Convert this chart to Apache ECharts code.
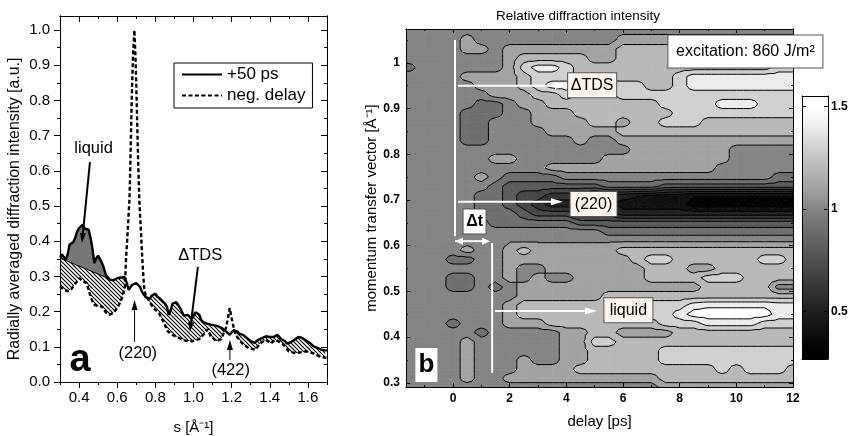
<!DOCTYPE html>
<html><head><meta charset="utf-8">
<style>html,body{margin:0;padding:0;background:#fff}#c{width:850px;height:436px}</style>
<script src="https://cdn.jsdelivr.net/npm/echarts@6/dist/echarts.min.js"></script>
</head><body><div id="c"></div>
<script>
// ---------- panel a ----------
const solidS=[0.30,0.31,0.32,0.33,0.34,0.35,0.36,0.37,0.38,0.39,0.40,0.41,0.42,0.43,0.44,0.45,0.46,0.47,0.48,0.49,0.50,0.51,0.52,0.53,0.54,0.55,0.56,0.57,0.58,0.59,0.60,0.61,0.62,0.63,0.64,0.65,0.66,0.67,0.68,0.69,0.70,0.71,0.72,0.73,0.74,0.75,0.76,0.77,0.78,0.79,0.80,0.81,0.82,0.83,0.84,0.85,0.86,0.87,0.88,0.89,0.90,0.91,0.92,0.93,0.94,0.95,0.96,0.97,0.98,0.99,1.00,1.01,1.02,1.03,1.04,1.05,1.06,1.07,1.08,1.09,1.10,1.11,1.12,1.13,1.14,1.15,1.16,1.17,1.18,1.19,1.20,1.21,1.22,1.23,1.24,1.25,1.26,1.27,1.28,1.29,1.30,1.31,1.32,1.33,1.34,1.35,1.36,1.37,1.38,1.39,1.40,1.41,1.42,1.43,1.44,1.45,1.46,1.47,1.48,1.49,1.50,1.51,1.52,1.53,1.54,1.55,1.56,1.57,1.58,1.59,1.60,1.61,1.62,1.63,1.64,1.65,1.66,1.67,1.68,1.69,1.70];
const solidI=[.355,.362,.357,.348,.362,.39,.395,.398,.41,.428,.437,.44,.447,.436,.433,.433,.41,.38,.338,.352,.359,.355,.338,.324,.305,.298,.291,.286,.289,.293,.295,.295,.297,.295,.298,.281,.262,.27,.277,.28,.281,.281,.27,.256,.248,.241,.243,.236,.245,.248,.251,.243,.239,.234,.232,.223,.215,.191,.204,.223,.227,.227,.223,.21,.21,.188,.187,.191,.188,.179,.188,.198,.198,.191,.177,.17,.166,.166,.166,.163,.161,.161,.161,.158,.158,.153,.149,.144,.139,.134,.139,.147,.151,.144,.137,.137,.134,.132,.125,.12,.116,.113,.111,.116,.12,.116,.125,.128,.13,.128,.128,.13,.128,.132,.134,.132,.122,.118,.116,.109,.111,.113,.115,.12,.125,.128,.128,.125,.12,.118,.116,.111,.111,.101,.103,.097,.092,.092,.095,.09,.09];
const negS=[0.30,0.31,0.32,0.33,0.34,0.35,0.36,0.37,0.38,0.39,0.40,0.41,0.42,0.43,0.44,0.45,0.46,0.47,0.48,0.49,0.50,0.51,0.52,0.53,0.54,0.55,0.56,0.57,0.58,0.59,0.60,0.61,0.62,0.63,0.64,0.646,0.655,0.664,0.667,0.672,0.676,0.683,0.69,0.696,0.702,0.708,0.716,0.724,0.732,0.737,0.742,0.75,0.76,0.79,0.82,0.845,0.865,0.89,0.925,0.96,0.995,1.03,1.056,1.075,1.09,1.12,1.145,1.17,1.18,1.19,1.205,1.22,1.255,1.29,1.325,1.35,1.38,1.405,1.43,1.465,1.50,1.535,1.59,1.625,1.66,1.70];
const negI=[.272,.267,.262,.26,.258,.26,.264,.272,.277,.286,.295,.293,.286,.291,.281,.262,.243,.229,.22,.217,.215,.217,.215,.205,.198,.194,.191,.193,.196,.201,.21,.22,.232,.248,.267,.347,.43,.517,.574,.70,.80,.93,1.0,.92,.80,.66,.517,.43,.347,.30,.265,.245,.24,.21,.195,.168,.144,.134,.125,.117,.116,.122,.137,.15,.13,.116,.122,.153,.18,.21,.168,.134,.11,.096,.092,.11,.12,.11,.12,.11,.087,.082,.087,.082,.073,.068];
const liquidFrom=0.33, liquidTo=0.56;
const baselineS=[0.30,0.56];
const baselineI=[0.352,0.293];
const leftTicksX=[0.4,0.6,0.8,1.0,1.2,1.4,1.6];
const leftMinorX=[0.3,0.5,0.7,0.9,1.1,1.3,1.5,1.7];
const leftTicksY=[0,0.1,0.2,0.3,0.4,0.5,0.6,0.7,0.8,0.9,1.0];
const leftMinorY=[0.05,0.15,0.25,0.35,0.45,0.55,0.65,0.75,0.85,0.95];

// ---------- panel b : intensity map, tenths of relative intensity ----------
const delays=[-1.66,-1,-0.5,0,0.5,1,1.5,2,2.5,3,3.5,4,4.5,5,5.5,6,6.5,7,7.5,8,8.5,9,9.5,10,10.5,11,11.5,12];
const momentum=[1.074,1.05,1.03,1.01,0.99,0.97,0.95,0.93,0.91,0.89,0.87,0.85,0.83,0.81,0.79,0.77,0.75,0.73,0.71,0.69,0.67,0.65,0.63,0.61,0.59,0.57,0.55,0.53,0.51,0.49,0.47,0.45,0.43,0.41,0.39,0.37,0.35,0.33,0.31,0.291];
const intensity=[
[10,10,10,10,10,10,10,10,10,10,10,10,10,10,10,10,10,10,10,10,10,10,10,10,10,10,10,10],
[10,10,10,10,11,10,10,10,10,10,10,10,10,10,10,11,11,11,11,11,11,11,11,11,11,11,11,11],
[10,10,10,10,11,11,10,11,11,11,11,11,11,11,11,12,12,12,12,12,11,11,11,11,11,11,11,11],
[10,10,10,10,10,10,10,11,12,12,12,12,12,11,11,12,12,12,12,12,12,12,12,12,12,12,12,12],
[9,10,10,10,10,10,10,11,13,14,14,13,12,12,12,12,12,12,12,12,12,12,12,12,12,12,13,13],
[10,10,10,10,11,11,11,11,12,13,13,13,12,12,12,12,12,12,12,13,14,14,14,14,14,14,14,14],
[10,10,10,10,10,11,11,11,12,13,14,14,13,13,13,13,13,12,12,13,14,14,14,14,14,14,14,14],
[10,10,10,10,10,10,11,11,11,12,12,13,12,12,12,13,13,13,13,13,13,13,13,13,13,13,13,13],
[10,10,10,10,10,9,9,10,11,11,12,12,12,12,12,12,12,12,13,13,13,13,14,14,14,13,13,13],
[10,10,10,10,9,9,9,10,10,11,11,11,12,12,12,12,12,12,12,13,13,13,13,13,13,13,13,13],
[10,10,10,10,9,9,10,10,10,11,11,11,11,12,12,11,12,12,13,13,13,12,12,12,12,12,12,12],
[10,10,10,10,9,9,10,10,10,10,11,11,11,11,11,12,12,12,12,12,12,12,12,12,12,12,12,12],
[10,10,10,10,9,9,10,10,10,10,10,10,11,10,10,11,11,11,11,11,11,11,11,11,11,11,11,11],
[10,10,10,10,10,10,10,10,10,10,10,10,10,10,10,10,11,11,11,11,11,11,11,10,10,10,10,10],
[10,10,10,10,10,10,11,11,10,10,10,10,10,10,11,11,11,11,11,11,11,11,11,10,10,10,10,10],
[10,10,10,10,10,10,10,10,10,10,11,11,11,11,11,11,11,11,11,11,11,11,10,10,10,10,10,10],
[10,10,10,10,10,11,10,9,9,9,9,10,10,10,10,10,10,10,10,10,10,10,10,10,10,10,9,9],
[10,10,10,10,10,10,9,8,8,8,8,8,8,8,9,9,9,9,8,8,8,8,8,8,8,8,8,8],
[10,10,10,10,10,9,9,8,7,7,6,6,6,5,5,5,4.6,4.4,4.2,4,3.6,3.6,3.6,3.6,3.6,3.6,3.6,3.6],
[10,10,10,10,10,9,9,8,7,6,5,5,5,5,5,4,4,4,4,4,3,3,3,3,3,3,3,3],
[10,10,10,10,10,9,9,9,8,7,7,7,6,6,6,5,5,5,5,5,5,5,5,5,5,5,5,5],
[10,10,10,10,10,10,9,9,9,9,9,9,8,8,8,8,8,8,8,8,8,8,8,8,8,8,8,8],
[10,10,10,10,10,10,10,10,10,10,10,10,10,10,9,9,9,9,9,9,9,9,9,9,9,9,9,9],
[10,10,10,10,10,10,10,10.4,10.4,10.4,10.4,10.4,10.4,10.4,10.4,10.4,10.4,10.4,10.4,10.4,10.4,10.4,10.4,10.4,10.4,10.4,10.4,10.4],
[10,10,10,10,11,10,10,11,12,11,11,11,11,11,11,12,12,12,12,12,12,12,12,12,12,12,12,12],
[10,10,10,9,9,10,10,11,11,11,11,11,11,11,11,11,12,13,13,12,12,12,12,12,12,13,13,12],
[10,10,10,10,10,10,10,11,10,10,11,11,11,11,11,11,11,12,12,12,11,11,12,12,12,12,12,12],
[10,10,10,9,9,10,10,11,10,11,10,10,11,11,11,11,11,12,12,12,12,13,13,13,12,12,12,12],
[10,10,10,9,9,10,9,10,11,11,11,11,11,11,11,11,11,11,11,11,11,12,12,12,12,12,10,10],
[10,10,10,10,10,10,10,10,11,11,11,11,11,11,12,12,12,12,12,12,12,12,12,12,12,12,12,12],
[10,10,10,10,10,10,10,11,12,12,12,12,12,12,12,12,12,13,13,13,14,14.3,14.3,14.3,14.3,14.3,14,14],
[10,10,10,10,10,10,10,11,12,12,12,12,12,12,12,12,13,13,13,14,15,15,15,15,15,15,14,14],
[10,10,10,9,10,10,10,11,11,11,12,12,12,12,12,12,12,12,13,13,13,14,14,14,14,13,13,13],
[10,10,10,10,10,9,10,10,10,10,10,11,11,12,12,11,11,11,11,12,12,12,12,12,12,12,12,12],
[10,10,10,10,11,10,10,10,10,10,10,11,11,13,13,12,12,12,12,12,12,12,12,12,12,12,12,12],
[10,10,10,10,11,10,10,10,10,10,10,11,11,12,12,12,12,12,13,13,13,13,13,13,13,13,13,13],
[10,10,10,10,11,10,10,10,11,10,10,11,11,12,12,12,12,12,13,13,13,13,13,13,13,13,13,13],
[10,10,10,10,11,10,10,10,11,11,11,11,12,12,12,12,12,12,12,12,12,12,13,12,13,13,13,12],
[10,10,10,10,11,10,10,11,11,11,11,11,11,11,11,11,11,11,12,12,12,12,12,12,12,12,12,12],
[10,10,10,10,10,10,10,10,10,10,10,10,10,10,10,10,10,10,11,11,11,11,11,11,11,11,11,11]
];
const bandValues=[3,4,5,6,7,8,9,10,11,12,13,14,15];
const bandGrays=['#000000','#101010','#1f1f1f','#323232','#464646','#5a5a5a','#6e6e6e','#848484','#a2a2a2','#b8b8b8','#d0d0d0','#ececec','#ffffff'];
const rightTicksX=[0,2,4,6,8,10,12];
const rightMinorX=[-1,1,3,5,7,9,11];
const rightTicksY=[0.3,0.4,0.5,0.6,0.7,0.8,0.9,1.0];
const rightMinorY=[0.35,0.45,0.55,0.65,0.75,0.85,0.95,1.05];
const barTicks=[0.5,1,1.5];
const barRange=[0.27,1.55];

// ---------- annotations (data units) ----------
const leftArrows=[[[0.457,0.625],[0.415,0.395]],[[1.023,0.327],[0.981,0.142]],[[0.691,0.114],[0.691,0.233]],[[1.191,0.0625],[1.191,0.119]]];
const leftTexts=[['liquid',0.476,0.664],['ΔTDS',1.035,0.36],['(220)',0.708,0.082],['(422)',1.195,0.034]];
const whiteLines=[[[0.07,1.05],[0.07,0.621]],[[1.38,0.606],[1.38,0.322]]];
const whiteArrows=[[[0.18,0.95],[4.02,0.95]],[[0.18,0.696],[3.88,0.696]],[[1.48,0.457],[5.08,0.457]]];
const dtArrow=[[0.07,0.61],[1.31,0.61]];

const G1={left:60,width:267,top:16,height:366};
const G2={left:406,width:387,top:29,height:358};
const G3={left:802,width:26,top:96,height:263};
const FONT='"Liberation Sans",Arial,sans-serif';

function hatch(){
  const c=document.createElement('canvas');c.width=c.height=4;
  const x=c.getContext('2d');x.fillStyle='#fff';x.fillRect(0,0,4,4);
  x.strokeStyle='#000';x.lineWidth=1.1;
  x.beginPath();x.moveTo(-1,-1);x.lineTo(5,5);x.moveTo(-2,2);x.lineTo(2,6);x.moveTo(2,-2);x.lineTo(6,2);x.stroke();
  return c;
}
const hatchFill={image:hatch(),repeat:'repeat'};

// contour geometry
function clipPoly(p,lev,above){
  const out=[];
  for(let i=0;i<p.length;i++){
    const a=p[i],b=p[(i+1)%p.length];
    const ia=above?a[2]>=lev:a[2]<=lev, ib=above?b[2]>=lev:b[2]<=lev;
    if(ia)out.push(a);
    if(ia!==ib){const t=(lev-a[2])/(b[2]-a[2]);out.push([a[0]+t*(b[0]-a[0]),a[1]+t*(b[1]-a[1]),lev]);}
  }
  return out;
}
const cells=[];
for(let i=0;i<momentum.length-1;i++)for(let j=0;j<delays.length-1;j++){
  const x0=delays[j],x1=delays[j+1],y0=momentum[i],y1=momentum[i+1];
  const a=[x0,y0,intensity[i][j]],b=[x1,y0,intensity[i][j+1]],c=[x1,y1,intensity[i+1][j+1]],d=[x0,y1,intensity[i+1][j]];
  const m=[(x0+x1)/2,(y0+y1)/2,(a[2]+b[2]+c[2]+d[2])/4];
  const fills=[],segs=[];
  const vs=[a[2],b[2],c[2],d[2]];
  const mn=Math.min(...vs),mx=Math.max(...vs);
  bandValues.forEach((v,k)=>{
    if(mx<v-0.5||mn>v+0.5)return;
    if(mn>=v-0.5&&mx<=v+0.5){fills.push([k,[a,b,c,d]]);return;}
    [[a,b,m],[b,c,m],[c,d,m],[d,a,m]].forEach(t=>{
      const p=clipPoly(clipPoly(t,v-0.5,true),v+0.5,false);
      if(p.length>=3)fills.push([k,p]);
    });
  });
  if(mx>mn)bandValues.forEach(v=>{
    const lev=v-0.5;
    if(lev<mn||lev>mx)return;
    [[a,b,m],[b,c,m],[c,d,m],[d,a,m]].forEach(t=>{
      const pts=[];
      for(let q=0;q<3;q++){const u=t[q],w=t[(q+1)%3];
        if((u[2]<lev)!==(w[2]<lev)){const f=(lev-u[2])/(w[2]-u[2]);pts.push([u[0]+f*(w[0]-u[0]),u[1]+f*(w[1]-u[1])]);}}
      if(pts.length===2)segs.push(pts);
    });
  });
  cells.push({value:[x0,y0],fills,segs});
}
function renderFill(params,api){
  const cell=cells[params.dataIndex];
  return {type:'group',children:cell.fills.map(f=>({type:'polygon',silent:true,
    shape:{points:f[1].map(p=>api.coord([p[0],p[1]]))},
    style:{fill:bandGrays[f[0]],stroke:bandGrays[f[0]],lineWidth:0.7}}))};
}
function renderLine(params,api){
  const cell=cells[params.dataIndex];
  return {type:'group',children:cell.segs.map(s=>({type:'polyline',silent:true,
    shape:{points:s.map(p=>api.coord(p))},
    style:{fill:null,stroke:'#000',lineWidth:1}}))};
}
// arrows through the axes' scales
function arrowShape(api,from,to,color,width,len,half,both){
  const a=api.coord(from),b=api.coord(to);
  const dx=b[0]-a[0],dy=b[1]-a[1],L=Math.hypot(dx,dy),ux=dx/L,uy=dy/L;
  const head=(tip,sx,sy)=>({type:'polygon',silent:true,shape:{points:[tip,[tip[0]-sx*len-sy*half,tip[1]-sy*len+sx*half],[tip[0]-sx*len+sy*half,tip[1]-sy*len-sx*half]]},style:{fill:color}});
  const kids=[{type:'line',silent:true,shape:{x1:a[0],y1:a[1],x2:b[0]-ux*len*0.6,y2:b[1]-uy*len*0.6},style:{stroke:color,lineWidth:width}},head(b,ux,uy)];
  if(both)kids.push(head(a,-ux,-uy));
  return kids;
}
function customArrows(list,xi,yi,color,widths,len,half,both,z){
  return {type:'custom',xAxisIndex:xi,yAxisIndex:yi,coordinateSystem:'cartesian2d',clip:false,silent:true,animation:false,z,
    data:list.map(a=>a[0]),encode:{x:0,y:1},
    renderItem:(p,api)=>{const a=list[p.dataIndex];const w=widths[p.dataIndex];
      return {type:'group',children:arrowShape(api,a[0],a[1],color,w,len,half,both)};}};
}

// axes helpers
function ax(grid,pos,min,max,ticks,len,opt){
  return Object.assign({type:'value',gridIndex:grid,position:pos,min,max,scale:true,
    axisLine:{show:true,onZero:false,lineStyle:{color:'#000',width:1}},
    splitLine:{show:false},
    axisTick:{show:true,inside:len.inside,length:len.l,customValues:ticks,lineStyle:{color:'#000',width:1}},
    axisLabel:{show:false,customValues:ticks},z:20},opt||{});
}
const OUT={inside:false,l:6},OUTS={inside:false,l:3},IN={inside:true,l:6},INS={inside:true,l:3},IN4={inside:true,l:4},IN2={inside:true,l:2};
const lblL={show:true,color:'#000',fontSize:15,fontFamily:FONT,margin:10,formatter:v=>v.toFixed(1)};
const lblR={show:true,color:'#000',fontSize:12,fontWeight:'bold',fontFamily:FONT,margin:6};

const xAxis=[
  ax(0,'bottom',0.3,1.7,leftTicksX,OUT,{axisLabel:Object.assign({},lblL,{customValues:leftTicksX,margin:8}),
     name:'s [Å⁻¹]',nameLocation:'middle',nameGap:38,nameTextStyle:{fontSize:15,fontFamily:FONT,color:'#000'}}),
  ax(0,'top',0.3,1.7,leftTicksX,IN),
  ax(1,'bottom',0.3,1.7,leftMinorX,OUTS),
  ax(1,'top',0.3,1.7,leftMinorX,INS),
  ax(2,'bottom',-1.66,12,rightTicksX,IN4,{axisLabel:Object.assign({},lblR,{customValues:rightTicksX,formatter:v=>String(v)}),
     name:'delay [ps]',nameLocation:'middle',nameGap:27,nameTextStyle:{fontSize:15,fontFamily:FONT,color:'#000'}}),
  ax(2,'top',-1.66,12,rightTicksX,IN4),
  ax(3,'bottom',-1.66,12,rightMinorX,IN2),
  ax(3,'top',-1.66,12,rightMinorX,IN2),
  ax(4,'bottom',0,1,[],IN2),
  ax(4,'top',0,1,[],IN2)
];
const yAxis=[
  ax(0,'left',0,1.04,leftTicksY,OUT,{axisLabel:Object.assign({},lblL,{customValues:leftTicksY}),
     name:'Radially averaged diffraction intensity [a.u.]',nameLocation:'middle',nameGap:37,nameTextStyle:{fontSize:15.9,fontFamily:FONT,color:'#000',padding:[0,20,0,0]}}),
  ax(0,'right',0,1.04,leftTicksY,IN),
  ax(1,'left',0,1.04,leftMinorY,OUTS),
  ax(1,'right',0,1.04,leftMinorY,INS),
  ax(2,'left',0.291,1.074,rightTicksY,IN4,{axisLabel:Object.assign({},lblR,{customValues:rightTicksY,formatter:v=>String(+v.toFixed(1))}),
     name:'momentum transfer vector [Å⁻¹]',nameLocation:'middle',nameGap:25,nameTextStyle:{fontSize:15,fontFamily:FONT,color:'#000'}}),
  ax(2,'right',0.291,1.074,rightTicksY,IN4),
  ax(3,'left',0.291,1.074,rightMinorY,IN2),
  ax(3,'right',0.291,1.074,rightMinorY,IN2),
  ax(4,'left',barRange[0],barRange[1],barTicks,IN4),
  ax(4,'right',barRange[0],barRange[1],barTicks,IN4,{axisLabel:Object.assign({},lblR,{customValues:barTicks,margin:3,formatter:v=>String(v)})})
];
const grid=[G1,G1,G2,G2,G3].map(g=>Object.assign({containLabel:false,outerBoundsMode:'none'},g));

const zip=(a,b)=>a.map((v,i)=>[v,b[i]]);
const solid=zip(solidS,solidI), neg=zip(negS,negI);
const liquid=solid.filter(p=>p[0]>=liquidFrom&&p[0]<=liquidTo);
const base=zip(baselineS,baselineI);
const none={symbol:'none',xAxisIndex:0,yAxisIndex:0,silent:true,animation:false};

const boxLabel=(name,x,y,size,bg,bd,w,h,extra)=>({type:'scatter',xAxisIndex:4,yAxisIndex:4,symbolSize:0,silent:true,z:30,animation:false,itemStyle:{opacity:1},
  data:[[x,y]],label:Object.assign({show:true,position:'inside',opacity:1,formatter:name,width:w,height:h,align:'center',verticalAlign:'middle',lineHeight:h,
    backgroundColor:bg,borderColor:bd,borderWidth:1,fontSize:size,fontFamily:FONT,color:'#000'},extra||{})});

const series=[
  Object.assign({type:'line',name:'hatch',data:solid,lineStyle:{width:0},areaStyle:{color:hatchFill,opacity:1},z:3},none),
  Object.assign({type:'line',name:'liquid',data:liquid,lineStyle:{width:0},areaStyle:{color:'#777777',opacity:1},z:4},none),
  Object.assign({type:'line',name:'base',data:base,lineStyle:{width:1,color:'#000'},areaStyle:{color:hatchFill,opacity:1},z:5},none),
  Object.assign({type:'line',name:'mask',data:neg,lineStyle:{width:0},areaStyle:{color:'#fff',opacity:1},z:6},none),
  Object.assign({type:'line',name:'+50 ps',data:solid,itemStyle:{color:'#000'},lineStyle:{width:2.4,color:'#000'},z:8},none),
  Object.assign({type:'line',name:'neg. delay',data:neg,itemStyle:{color:'#000'},lineStyle:{width:2.4,color:'#000',type:[4,2.5]},z:7},none),
  // left annotations
  customArrows(leftArrows,0,0,'#000',[2,2,1,1],10,3,false,12),
  {type:'scatter',xAxisIndex:0,yAxisIndex:0,symbolSize:0,silent:true,z:12,animation:false,itemStyle:{opacity:1},data:leftTexts.map(t=>({value:[t[1],t[2]],name:t[0]})),
    label:{show:true,position:'inside',opacity:1,formatter:p=>p.name,fontSize:16.5,fontFamily:FONT,color:'#000'}},
  {type:'scatter',xAxisIndex:0,yAxisIndex:0,symbolSize:0,silent:true,z:12,animation:false,itemStyle:{opacity:1},data:[[0.405,0.062]],
    label:{show:true,position:'inside',opacity:1,formatter:'a',fontSize:38,fontWeight:'bold',fontFamily:FONT,color:'#000'}},
  // map
  {type:'custom',name:'map',xAxisIndex:4,yAxisIndex:4,coordinateSystem:'cartesian2d',data:cells,renderItem:renderFill,encode:{x:0,y:1},silent:true,animation:false,clip:true,z:2,progressive:0},
  {type:'custom',name:'contours',xAxisIndex:4,yAxisIndex:4,coordinateSystem:'cartesian2d',data:cells,renderItem:renderLine,encode:{x:0,y:1},silent:true,animation:false,clip:true,z:3,progressive:0},
  customArrows(whiteLines,4,4,'#fff',[2,2],0.01,0,false,10),
  customArrows(whiteArrows,4,4,'#fff',[2,2,2],12,3.5,false,10),
  customArrows([dtArrow],4,4,'#fff',[2],8,3.5,true,10),
  boxLabel('ΔTDS',4.91,0.951,16,'#fdf5ec','#555',48,24),
  boxLabel('(220)',4.96,0.691,16,'#fdf5ec','#555',46,24),
  boxLabel('liquid',6.19,0.459,16,'#fdf5ec','#555',48,24),
  boxLabel('Δt',0.76,0.653,16,'#ffffff','#555',22,24,{fontWeight:'bold'}),
  boxLabel('b',-0.94,0.339,26,'#ffffff','#ffffff',20,32,{fontWeight:'bold'}),
  boxLabel('excitation: 860 J/m²',10.32,1.025,16,'#ffffff','#555',154,32),
  // colorbar
  {type:'custom',name:'colorbar',xAxisIndex:8,yAxisIndex:8,coordinateSystem:'cartesian2d',data:[[0,barRange[0]]],silent:true,animation:false,z:2,
    renderItem:(p,api)=>{
      const a=api.coord([0,barRange[0]]),b=api.coord([1,barRange[1]]);
      const stops=bandGrays.map((g,i)=>({offset:Math.min(1,Math.max(0,(bandValues[i]/10-barRange[0])/(barRange[1]-barRange[0]))),color:g}));
      return {type:'rect',shape:{x:a[0],y:b[1],width:b[0]-a[0],height:a[1]-b[1]},
        style:{fill:new echarts.graphic.LinearGradient(0,1,0,0,[{offset:0,color:'#000'}].concat(stops,[{offset:1,color:'#fff'}]))}};
    }}
];

const chart=echarts.init(document.getElementById('c'),null,{renderer:'canvas'});
chart.setOption({
  animation:false,backgroundColor:'#fff',
  title:{text:'Relative diffraction intensity',left:573,top:4,textAlign:'center',textStyle:{fontSize:13.5,fontWeight:'normal',fontFamily:FONT,color:'#000'}},
  legend:{data:['+50 ps','neg. delay'],orient:'vertical',left:174,top:63,padding:[3,7,4,7],itemWidth:40,itemHeight:2,itemGap:4,
    borderColor:'#000',borderWidth:1,backgroundColor:'#fff',z:15,selectedMode:false,textStyle:{fontSize:17,fontFamily:FONT,color:'#000'}},
  grid,xAxis,yAxis,series
});
</script></body></html>
